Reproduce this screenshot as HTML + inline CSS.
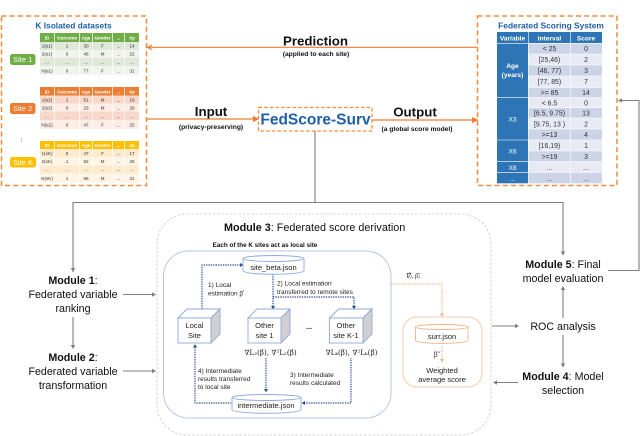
<!DOCTYPE html>
<html><head><meta charset="utf-8"><style>
html,body{margin:0;padding:0;background:#fff}
svg{display:block;font-family:"Liberation Sans",sans-serif;filter:blur(.25px)}
text{fill:#111}
.m{text-anchor:middle}
.b{font-weight:bold}
.h{font-size:4.6px;font-weight:bold;text-anchor:middle;fill:#fff}
.c{font-size:4.6px;text-anchor:middle;fill:#333}
.f{font-size:10.7px;text-anchor:middle}
.s{font-size:6.7px;font-weight:bold;text-anchor:middle}
.l{font-size:6.5px;fill:#222}
.j{font-size:7.5px;text-anchor:middle;fill:#222}
.t{font-size:6.9px;text-anchor:middle;fill:#333}
.w{font-size:7px;text-anchor:middle;fill:#fff;font-weight:bold}
.g{stroke:#7f7f7f;fill:none;stroke-width:1.1}
.o{stroke:#ed7d31;fill:none}
.d{stroke:#2f5597;fill:none;stroke-width:1.2;stroke-dasharray:1.4 1}
.cy{fill:#fff;stroke:#8faadc;stroke-width:.9}
</style></head><body>
<svg width="640" height="436" viewBox="0 0 640 436" xmlns="http://www.w3.org/2000/svg">
<rect width="640" height="436" fill="#fff"/>

<!-- dashed boxes -->
<rect x="1.5" y="16" width="145" height="169.5" fill="none" stroke="#f08a3c" stroke-width="1.5" stroke-dasharray="5 3.2"/>
<rect x="477.5" y="16" width="139.5" height="169.5" fill="none" stroke="#f08a3c" stroke-width="1.5" stroke-dasharray="5 3.2"/>
<rect x="258.5" y="107.5" width="113.5" height="23.5" fill="none" stroke="#f08a3c" stroke-width="1.3" stroke-dasharray="3.5 2.2"/>

<text x="73.5" y="28.5" class="m b" font-size="8.4" style="fill:#1f5ea8">K Isolated datasets</text>
<text x="551" y="28.5" class="m b" font-size="8.4" style="fill:#1f5ea8">Federated Scoring System</text>
<text x="315.5" y="124.5" class="m b" font-size="15.5" style="fill:#1f5ea8">FedScore-Surv</text>

<!-- Table 1 -->
<g>
<rect x="40" y="33" width="99" height="9" fill="#70ad47"/>
<rect x="40" y="42" width="99" height="8" fill="#dfe8d9"/><rect x="40" y="50" width="99" height="8" fill="#f0f4ed"/>
<rect x="40" y="58" width="99" height="8" fill="#dfe8d9"/><rect x="40" y="66" width="99" height="9" fill="#f0f4ed"/>
<g stroke="#fff" stroke-width=".7"><path d="M54.5 33V75M79.5 33V75M92.5 33V75M112.5 33V75M124.5 33V75"/></g>
<text y="39.5" class="h"><tspan x="47">ID</tspan><tspan x="67">Outcome</tspan><tspan x="86">Age</tspan><tspan x="102.5">Gender</tspan><tspan x="118.5">...</tspan><tspan x="132">Xp</tspan></text>
<text y="47.5" class="c"><tspan x="47">1(s1)</tspan><tspan x="67">1</tspan><tspan x="86">30</tspan><tspan x="102.5">F</tspan><tspan x="118.5">...</tspan><tspan x="132">14</tspan></text>
<text y="55.5" class="c"><tspan x="47">2(s1)</tspan><tspan x="67">0</tspan><tspan x="86">48</tspan><tspan x="102.5">M</tspan><tspan x="118.5">...</tspan><tspan x="132">22</tspan></text>
<text y="63.5" class="c"><tspan x="47">...</tspan><tspan x="67">...</tspan><tspan x="86">...</tspan><tspan x="102.5">...</tspan><tspan x="118.5">...</tspan><tspan x="132">...</tspan></text>
<text y="72.5" class="c"><tspan x="47">N(s1)</tspan><tspan x="67">0</tspan><tspan x="86">77</tspan><tspan x="102.5">F</tspan><tspan x="118.5">...</tspan><tspan x="132">31</tspan></text>
</g>
<rect x="10" y="54" width="25.5" height="11" rx="2.5" fill="#70ad47"/>
<text x="22.7" y="62" class="w" style="font-weight:normal;font-size:7.5px">Site 1</text>

<!-- Table 2 -->
<g>
<rect x="40" y="87" width="99" height="8.5" fill="#ed7d31"/>
<rect x="40" y="95.5" width="99" height="8" fill="#f8d8ca"/><rect x="40" y="103.5" width="99" height="8" fill="#fcede7"/>
<rect x="40" y="111.5" width="99" height="8.5" fill="#f8d8ca"/><rect x="40" y="120" width="99" height="9" fill="#fcede7"/>
<g stroke="#fff" stroke-width=".7"><path d="M54.5 87V129M79.5 87V129M92.5 87V129M112.5 87V129M124.5 87V129"/></g>
<text y="93.5" class="h"><tspan x="47">ID</tspan><tspan x="67">Outcome</tspan><tspan x="86">Age</tspan><tspan x="102.5">Gender</tspan><tspan x="118.5">...</tspan><tspan x="132">Xp</tspan></text>
<text y="101.5" class="c"><tspan x="47">1(s2)</tspan><tspan x="67">1</tspan><tspan x="86">51</tspan><tspan x="102.5">M</tspan><tspan x="118.5">...</tspan><tspan x="132">19</tspan></text>
<text y="109.5" class="c"><tspan x="47">2(s2)</tspan><tspan x="67">0</tspan><tspan x="86">23</tspan><tspan x="102.5">M</tspan><tspan x="118.5">...</tspan><tspan x="132">28</tspan></text>
<text y="117.5" class="c"><tspan x="47">...</tspan><tspan x="67">...</tspan><tspan x="86">...</tspan><tspan x="102.5">...</tspan><tspan x="118.5">...</tspan><tspan x="132">...</tspan></text>
<text y="126.5" class="c"><tspan x="47">N(s2)</tspan><tspan x="67">0</tspan><tspan x="86">47</tspan><tspan x="102.5">F</tspan><tspan x="118.5">...</tspan><tspan x="132">25</tspan></text>
</g>
<rect x="10" y="103" width="25.5" height="11" rx="2.5" fill="#ed7d31"/>
<text x="22.7" y="111" class="w" style="font-weight:normal;font-size:7.5px">Site 2</text>

<text x="23" y="142" class="m" font-size="6" style="fill:#666" transform="rotate(90 23 140)">...</text>

<!-- Table 3 -->
<g>
<rect x="40" y="141" width="99" height="8" fill="#ffc000"/>
<rect x="40" y="149" width="99" height="8" fill="#feeacc"/><rect x="40" y="157" width="99" height="8.5" fill="#fff5e6"/>
<rect x="40" y="165.5" width="99" height="8" fill="#feeacc"/><rect x="40" y="173.5" width="99" height="9.5" fill="#fff5e6"/>
<g stroke="#fff" stroke-width=".7"><path d="M54.5 141V183M79.5 141V183M92.5 141V183M112.5 141V183M124.5 141V183"/></g>
<text y="147" class="h"><tspan x="47">ID</tspan><tspan x="67">Outcome</tspan><tspan x="86">Age</tspan><tspan x="102.5">Gender</tspan><tspan x="118.5">...</tspan><tspan x="132">Xp</tspan></text>
<text y="155" class="c"><tspan x="47">1(sK)</tspan><tspan x="67">0</tspan><tspan x="86">47</tspan><tspan x="102.5">F</tspan><tspan x="118.5">...</tspan><tspan x="132">17</tspan></text>
<text y="163" class="c"><tspan x="47">2(sK)</tspan><tspan x="67">1</tspan><tspan x="86">82</tspan><tspan x="102.5">M</tspan><tspan x="118.5">...</tspan><tspan x="132">26</tspan></text>
<text y="171" class="c"><tspan x="47">...</tspan><tspan x="67">...</tspan><tspan x="86">...</tspan><tspan x="102.5">...</tspan><tspan x="118.5">...</tspan><tspan x="132">...</tspan></text>
<text y="180" class="c"><tspan x="47">N(sK)</tspan><tspan x="67">1</tspan><tspan x="86">66</tspan><tspan x="102.5">M</tspan><tspan x="118.5">...</tspan><tspan x="132">31</tspan></text>
</g>
<rect x="10" y="157" width="26" height="10.5" rx="2.5" fill="#ffc000"/>
<text x="23" y="165" class="w" style="font-weight:normal;font-size:7.5px">Site K</text>

<!-- Scoring table -->
<g>
<rect x="497" y="32" width="105" height="11.3" fill="#2e75b6"/>
<rect x="497" y="43.3" width="31" height="140" fill="#2e75b6"/>
<g fill="#cdd4e8"><rect x="528" y="43.3" width="74" height="10.7"/><rect x="528" y="65" width="74" height="11"/><rect x="528" y="87.3" width="74" height="10.4"/><rect x="528" y="107.7" width="74" height="10.3"/><rect x="528" y="129" width="74" height="11"/><rect x="528" y="151" width="74" height="10.7"/><rect x="528" y="172.3" width="74" height="11"/></g>
<g fill="#e8ebf5"><rect x="528" y="54" width="74" height="11"/><rect x="528" y="76" width="74" height="11.3"/><rect x="528" y="97.7" width="74" height="10"/><rect x="528" y="118" width="74" height="11"/><rect x="528" y="140" width="74" height="11"/><rect x="528" y="161.7" width="74" height="10.6"/></g>
<g stroke="#fff" stroke-width=".6"><path d="M528.3 32V183.3M570.3 32V183.3M497 43.3H602M528 54H602M528 65H602M528 76H602M528 87.3H602M497 97.7H602M528 107.7H602M528 118H602M528 129H602M497 140H602M528 151H602M497 161.7H602M497 172.3H602"/></g>
<text y="40.5" class="m b" font-size="6.6" style="fill:#fff"><tspan x="512.5">Variable</tspan><tspan x="549.5">Interval</tspan><tspan x="586">Score</tspan></text>
<text y="51" class="t"><tspan x="549.5">&lt; 25</tspan><tspan x="586">0</tspan></text>
<text y="62" class="t"><tspan x="549.5">[25,46)</tspan><tspan x="586">2</tspan></text>
<text y="73" class="t"><tspan x="549.5">[46, 77)</tspan><tspan x="586">3</tspan></text>
<text y="84" class="t"><tspan x="549.5">[77, 85)</tspan><tspan x="586">7</tspan></text>
<text y="95" class="t"><tspan x="549.5">&gt;= 85</tspan><tspan x="586">14</tspan></text>
<text y="105.5" class="t"><tspan x="549.5">&lt; 6.5</tspan><tspan x="586">0</tspan></text>
<text y="115.5" class="t"><tspan x="549.5">[6.5, 9.75)</tspan><tspan x="586">13</tspan></text>
<text y="126.5" class="t"><tspan x="549.5">[9.75, 13 )</tspan><tspan x="586">2</tspan></text>
<text y="137" class="t"><tspan x="549.5">&gt;=13</tspan><tspan x="586">4</tspan></text>
<text y="148" class="t"><tspan x="549.5">[16,19)</tspan><tspan x="586">1</tspan></text>
<text y="159" class="t"><tspan x="549.5">&gt;=19</tspan><tspan x="586">3</tspan></text>
<text y="170" class="t"><tspan x="549.5">...</tspan><tspan x="586">...</tspan></text>
<text y="181" class="t"><tspan x="549.5">...</tspan><tspan x="586">...</tspan></text>
<text x="512.5" class="m b" font-size="6.6" style="fill:#fff"><tspan x="512.5" y="68">Age</tspan><tspan x="512.5" y="77">(years)</tspan></text>
<text class="m" font-size="6.6" style="fill:#fff"><tspan x="512.5" y="121.5">X3</tspan><tspan x="512.5" y="153.5">X6</tspan><tspan x="512.5" y="170">X8</tspan><tspan x="512.5" y="181">...</tspan></text>
</g>

<!-- Orange connectors -->
<g class="o" stroke-width="1.2">
<path d="M149 47.3H476.5"/><path d="M152 45L147.5 47.3L152 49.6"/>
<path d="M147 119H256"/><path d="M253 116.5L258 119L253 121.5" fill="#ed7d31"/>
<path d="M372 120H474"/><path d="M472 117.5L477 120L472 122.5" fill="#ed7d31"/>
</g>
<text x="315.5" y="45.5" class="m b" font-size="13.3">Prediction</text>
<text x="316" y="56" class="s">(applied to each site)</text>
<text x="211" y="116" class="m b" font-size="13.3">Input</text>
<text x="211" y="129" class="s">(privacy-preserving)</text>
<text x="415" y="116.5" class="m b" font-size="13.3">Output</text>
<text x="417" y="131" class="s">(a global score model)</text>

<!-- Grey connectors -->
<g class="g">
<path d="M315 131V202.5M73 272V202.5H563V253"/>
<path d="M73 317V347"/>
<path d="M123 294.5H154M123 371H154"/>
<path d="M608 270.5H639V100.5H621"/>
<path d="M563 318V288M563 335V365"/>
<path d="M492 326H517M518 382.5H495"/>
</g>
<g fill="#7f7f7f">
<path d="M73 272L70.8 268H75.2Z"/><path d="M73 349L70.8 345H75.2Z"/>
<path d="M156 294.5L152 292.3V296.7Z"/><path d="M156 371L152 368.8V373.2Z"/>
<path d="M563 255.5L560.8 251.5H565.2Z"/><path d="M618 100.5L622 98.3V102.7Z"/>
<path d="M563 286L560.8 290H565.2Z"/><path d="M563 367.5L560.8 363.5H565.2Z"/>
<path d="M519 326L515 323.8V328.2Z"/><path d="M493 382.5L497 380.3V384.7Z"/>
</g>

<!-- Module text -->
<text x="73" y="284" class="f"><tspan font-weight="bold">Module 1</tspan>:</text>
<text x="73" y="298" class="f">Federated variable</text>
<text x="73" y="312" class="f">ranking</text>
<text x="73" y="361" class="f"><tspan font-weight="bold">Module 2</tspan>:</text>
<text x="73" y="375" class="f">Federated variable</text>
<text x="73" y="389" class="f">transformation</text>
<text x="563" y="268" class="f"><tspan font-weight="bold">Module 5</tspan>: Final</text>
<text x="563" y="282" class="f">model evaluation</text>
<text x="563" y="330" class="f">ROC analysis</text>
<text x="563" y="380" class="f"><tspan font-weight="bold">Module 4</tspan>: Model</text>
<text x="563" y="394" class="f">selection</text>

<!-- Module 3 -->
<rect x="157" y="214" width="334" height="221" rx="30" fill="none" stroke="#c9c9c9" stroke-width=".8" stroke-dasharray="2.5 1.8"/>
<text x="224" y="231" font-size="10.8"><tspan font-weight="bold">Module 3</tspan>: Federated score derivation</text>
<rect x="163.5" y="251" width="227.5" height="167" rx="25" fill="none" stroke="#b4c7e7" stroke-width="1"/>
<text x="265" y="247" class="s" style="font-size:6.3px">Each of the K sites act as local site</text>

<!-- Blue dotted -->
<path class="d" d="M241 265H202V309"/>
<path class="d" d="M273 274V307M273 297H354V307"/>
<path class="d" d="M195 347V403H231"/>
<path class="d" d="M266 358V390"/>
<path class="d" d="M304 403H351V358"/>
<g fill="#2f5597">
<path d="M243.5 265L240 263V267Z"/><path d="M273 309.5L271 306H275Z"/><path d="M354 309.5L352 306H356Z"/>
<path d="M195 344L193 347.5H197Z"/><path d="M266 392.5L264 389H268Z"/><path d="M301.5 403L305 401V405Z"/>
</g>

<!-- cylinders -->
<g>
<path class="cy" d="M243 258.5V270.5C243 275.5 304 275.5 304 270.5V258.5"/>
<ellipse class="cy" cx="273.5" cy="258.5" rx="30.5" ry="3"/>
<text x="273.5" y="270" class="j">site_beta.json</text>
<path class="cy" d="M232 397.5V409.5C232 414.5 301 414.5 301 409.5V397.5"/>
<ellipse class="cy" cx="266.5" cy="397.5" rx="34.5" ry="3"/>
<text x="266" y="408" class="j">intermediate.json</text>
</g>

<!-- cubes -->
<g stroke="#8faadc" stroke-width=".9">
<path d="M178 318L187 309H220L211 318Z" fill="#fff"/><path d="M211 318L220 309V334L211 343Z" fill="#d0d0d0"/><rect x="178" y="318" width="33" height="25" fill="#fff"/>
<path d="M248 318L257 309H290L281 318Z" fill="#fff"/><path d="M281 318L290 309V334L281 343Z" fill="#d0d0d0"/><rect x="248" y="318" width="33" height="25" fill="#fff"/>
<path d="M329.5 318L338.5 309H372L363 318Z" fill="#fff"/><path d="M363 318L372 309V334L363 343Z" fill="#d0d0d0"/><rect x="329.5" y="318" width="33.5" height="25" fill="#fff"/>
</g>
<text x="194.5" y="328" class="j">Local</text><text x="194.5" y="338" class="j">Site</text>
<text x="264.5" y="328" class="j">Other</text><text x="264.5" y="338" class="j">site 1</text>
<text x="346" y="328" class="j">Other</text><text x="346" y="338" class="j">site K-1</text>
<text x="309" y="329" class="j" style="font-weight:bold">...</text>

<!-- labels -->
<text x="208" y="287" class="l">1) Local</text>
<text x="208" y="295.5" class="l">estimation β̂</text>
<text x="277" y="285.5" class="l">2) Local estimation</text>
<text x="277" y="294" class="l">transferred to remote sites</text>
<text x="198" y="373" class="l">4) Intermediate</text>
<text x="198" y="381" class="l">results transferred</text>
<text x="198" y="389" class="l">to local site</text>
<text x="290" y="377" class="l">3) Intermediate</text>
<text x="290" y="385" class="l">results calculated</text>
<text x="270.5" y="355" class="j" style="font-size:7.2px;font-family:'DejaVu Serif','Liberation Serif',serif">∇L₂(β̄), ∇²L₂(β̄)</text>
<text x="351.5" y="355" class="j" style="font-size:7.2px;font-family:'DejaVu Serif','Liberation Serif',serif">∇Lₖ(β̄), ∇²Lₖ(β̄)</text>

<!-- Orange module -->
<path d="M391 284H442V314" fill="none" stroke="#f4b183" stroke-width="1.1" stroke-dasharray="1.4 1"/>
<path d="M442 317L440 313.5H444Z" fill="#f4b183"/>
<text x="412.5" y="278" class="m" font-size="7" style="font-family:'Liberation Serif',serif;font-style:italic;fill:#333">∇̂ⱼ, β̄ⱼ</text>
<rect x="403" y="317" width="79" height="70" rx="14" fill="none" stroke="#f8cbad" stroke-width="1"/>
<path d="M415.5 327V340C415.5 344.5 468 344.5 468 340V327" fill="#fff" stroke="#f4b183" stroke-width=".9"/>
<ellipse cx="441.7" cy="327" rx="26.3" ry="2.5" fill="#fff" stroke="#f4b183" stroke-width=".9"/>
<text x="442" y="339" class="j">surr.json</text>
<path d="M442 346V360" fill="none" stroke="#f4b183" stroke-width="1.1" stroke-dasharray="1.4 1"/>
<path d="M442 362.5L440 359H444Z" fill="#f4b183"/>
<text x="435.5" y="357" class="m" font-size="7.5" style="fill:#333">β̃</text>
<text x="442" y="373" class="j">Weighted</text>
<text x="442" y="382" class="j">average score</text>
</svg>
</body></html>
